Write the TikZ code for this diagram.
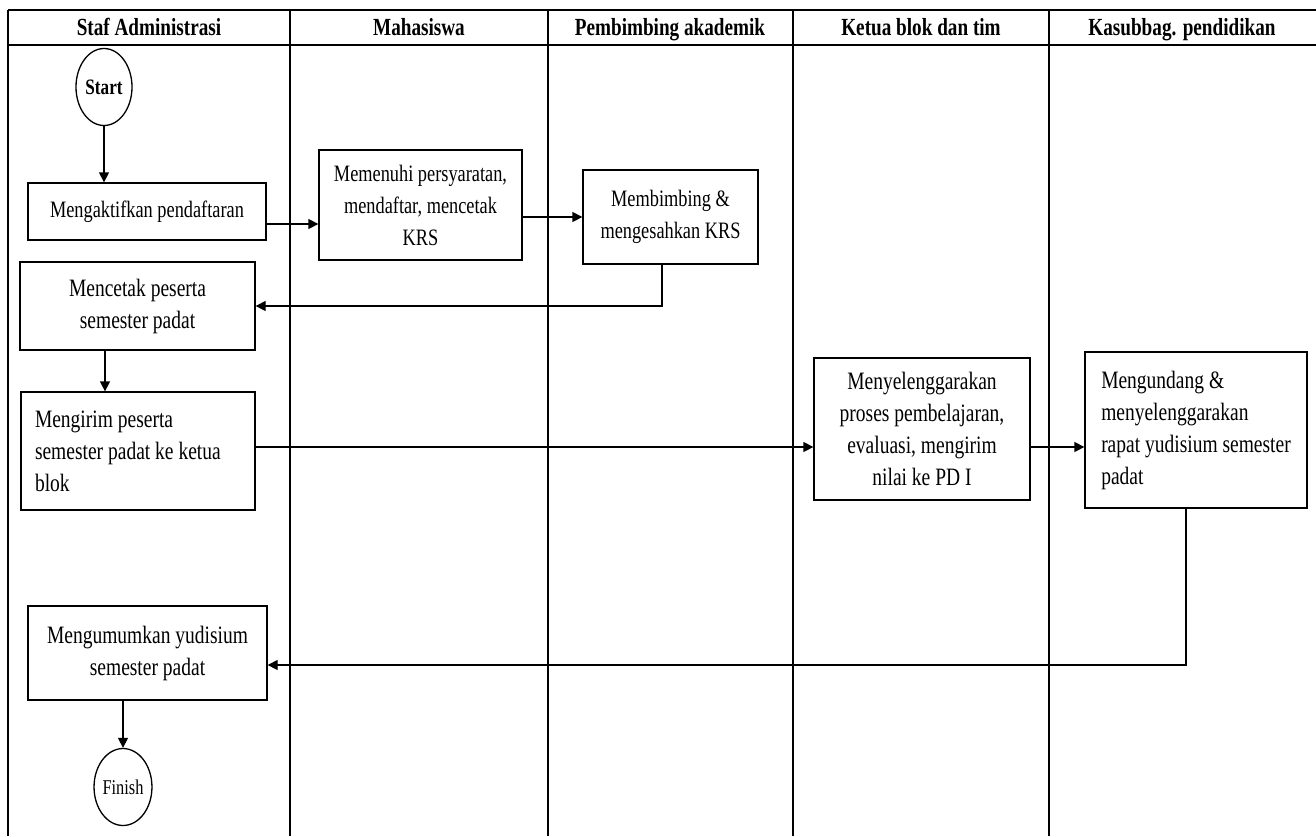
\documentclass[tikz,border=0pt]{standalone}
\usepackage{fontspec}
\setmainfont{Liberation Serif}[FakeStretch=0.78]
\usetikzlibrary{arrows.meta,shapes.geometric,calc}

\tikzset{
  laneline/.style={line width=1.3pt, black},
  stepbox/.style={draw, rectangle, line width=1.3pt, inner sep=0pt, align=center,
                  font=\fontsize{25}{32}\selectfont},
  smallbox/.style={stepbox, font=\fontsize{23.5}{32}\selectfont},
  terminal/.style={draw, ellipse, line width=1.3pt, inner sep=0pt},
  flow/.style={line width=1.3pt, -{Triangle[length=10pt,width=10pt]}},
  head/.style={anchor=base, font=\fontsize{24.6}{28}\selectfont\bfseries},
}

\begin{document}
\begin{tikzpicture}[x=1pt, y=-1pt]
\useasboundingbox (0,0) rectangle (1316,836);

% swimlane frame
\draw[laneline, line width=1.5pt] (8,10) -- (1316,10);
\draw[laneline, line width=1.5pt] (8,45) -- (1316,45);
\foreach \lx in {8,290,548,793,1049}
  \draw[laneline] (\lx,10) -- (\lx,836);

% lane titles
\node[head] (h1) at (149,35)  {Staf Administrasi};
\node[head] (h2) at (419,35)  {Mahasiswa};
\node[head] (h3) at (670,35)  {Pembimbing akademik};
\node[head] (h4) at (921,35)  {Ketua blok dan tim};
\node[head] (h5) at (1182,35) {Kasubbag. pendidikan};

% terminals
\node[terminal, minimum width=56pt, minimum height=77pt,
      font=\fontsize{22}{24}\selectfont\bfseries] (start) at (104,87) {Start};
\node[terminal, minimum width=55pt, minimum height=77pt,
      font=\fontsize{21}{24}\selectfont] (finish) at (123,787) {Finish};

% process steps
\node[smallbox, minimum width=238pt, minimum height=57pt] (act) at (147,211.5)
  {Mengaktifkan pendaftaran};
\node[smallbox, minimum width=203pt, minimum height=110pt] (mem) at (420.5,205)
  {Memenuhi persyaratan,\\ mendaftar, mencetak\\ KRS};
\node[smallbox, minimum width=175pt, minimum height=94pt] (mbb) at (670.5,217)
  {Membimbing \&\\ mengesahkan KRS};
\node[stepbox, minimum width=235pt, minimum height=88pt] (cetak) at (137.5,306)
  {Mencetak peserta\\ semester padat};
\node[stepbox, minimum width=234pt, minimum height=118pt, text width=206pt, align=flush left]
  (kirim) at (138,451)
  {Mengirim peserta\\ semester padat ke ketua\\ blok};
\node[stepbox, minimum width=216pt, minimum height=142pt] (sel) at (922,429)
  {Menyelenggarakan\\ proses pembelajaran,\\ evaluasi, mengirim\\ nilai ke PD I};
\node[stepbox, minimum width=222pt, minimum height=156pt, align=flush left] (und) at (1196,430)
  {Mengundang \&\\ menyelenggarakan\\ rapat yudisium semester\\ padat};
\node[stepbox, minimum width=239pt, minimum height=94pt] (umum) at (147.5,653)
  {Mengumumkan yudisium\\ semester padat};

% flow
\draw[flow] (start.south) -- (start.south |- act.north);
\draw[flow] ([yshift=-12.5pt]act.east) -- ([yshift=-12.5pt]act.east -| mem.west);
\draw[flow] (mem.east |- mbb.west) -- (mbb.west);
\draw[flow] ([xshift=-8.5pt]mbb.south) |- (cetak.east);
\draw[flow] ([xshift=-32.5pt]cetak.south) -- ([xshift=-32.5pt]cetak.south |- kirim.north);
\draw[flow] ([yshift=4pt]kirim.east) -- ([yshift=4pt]kirim.east -| sel.west);
\draw[flow] ([yshift=-18pt]sel.east) -- ([yshift=-18pt]sel.east -| und.west);
\draw[flow] ([xshift=-10pt]und.south) |- ([yshift=-12pt]umum.east);
\draw[flow] (finish.north |- umum.south) -- (finish.north);
\end{tikzpicture}
\end{document}
